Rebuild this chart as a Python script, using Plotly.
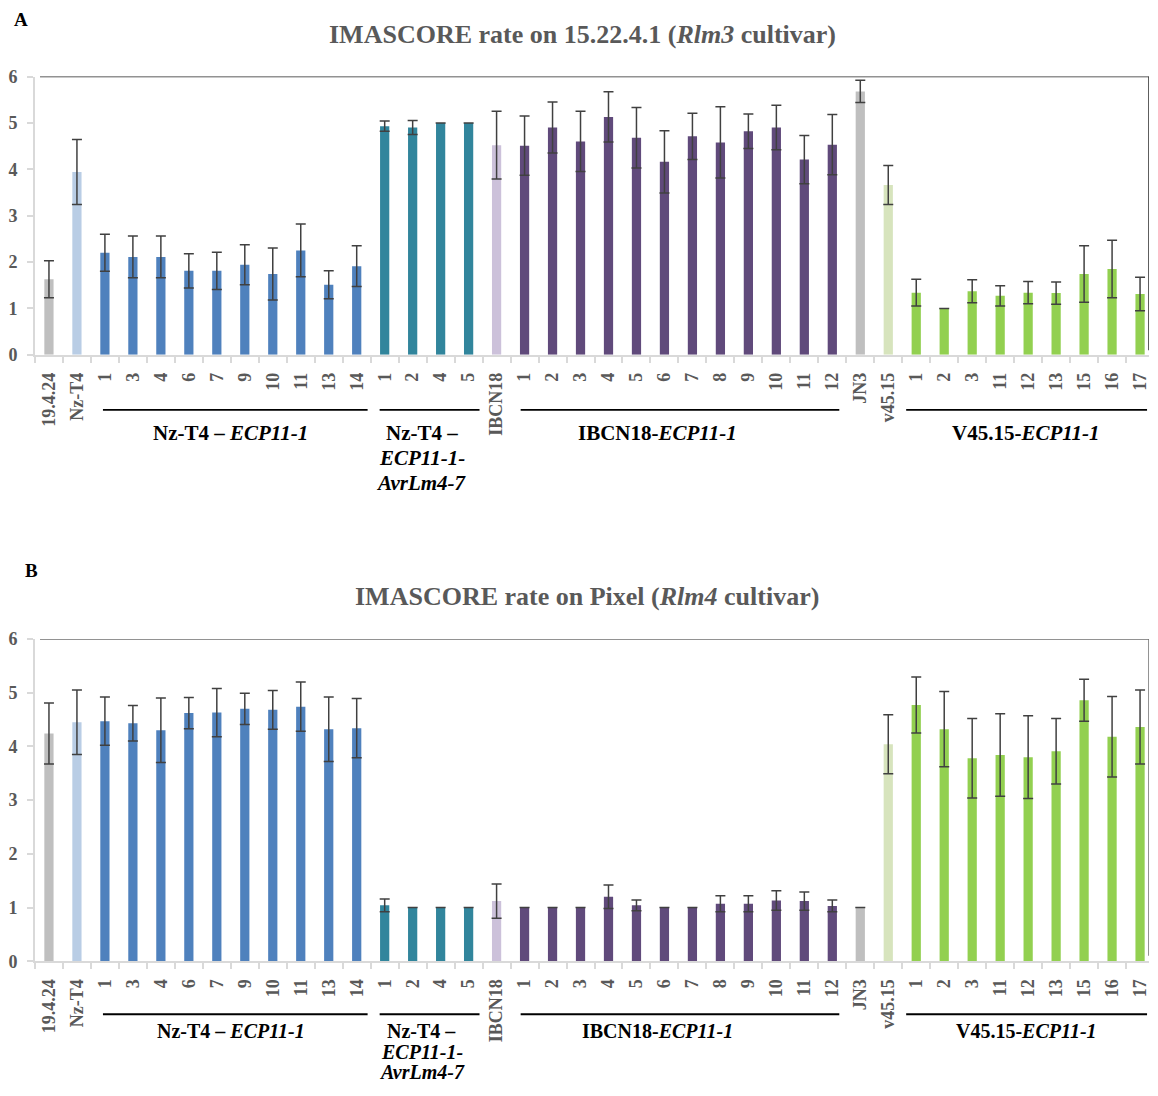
import plotly.graph_objects as go

# ---------------- data ----------------
labels = ["19.4.24", "Nz-T4", "1", "3", "4", "6", "7", "9", "10", "11", "13", "14",
          "1", "2", "4", "5",
          "IBCN18", "1", "2", "3", "4", "5", "6", "7", "8", "9", "10", "11", "12",
          "JN3", "v45.15", "1", "2", "3", "11", "12", "13", "15", "16", "17"]

rate_rlm3 = [1.63, 3.94, 2.20, 2.11, 2.11, 1.81, 1.81, 1.94, 1.74, 2.25, 1.51, 1.91,
             4.93, 4.90, 5.00, 5.00,
             4.52, 4.51, 4.90, 4.60, 5.13, 4.68, 4.16, 4.71, 4.58, 4.82, 4.90, 4.21, 4.53,
             5.68, 3.66, 1.34, 1.00, 1.37, 1.27, 1.34, 1.33, 1.74, 1.85, 1.31]
sd_rlm3 = [0.40, 0.70, 0.40, 0.45, 0.45, 0.37, 0.40, 0.43, 0.56, 0.57, 0.30, 0.44,
           0.11, 0.15, 0.00, 0.00,
           0.73, 0.64, 0.55, 0.65, 0.54, 0.65, 0.67, 0.50, 0.77, 0.37, 0.48, 0.52, 0.65,
           0.24, 0.42, 0.29, 0.00, 0.25, 0.22, 0.24, 0.24, 0.61, 0.62, 0.36]

rate_rlm4 = [4.24, 4.45, 4.47, 4.43, 4.30, 4.62, 4.63, 4.70, 4.68, 4.74, 4.32, 4.34,
             1.04, 1.00, 1.00, 1.00,
             1.12, 1.00, 1.00, 1.00, 1.20, 1.04, 1.00, 1.00, 1.07, 1.07, 1.13, 1.12, 1.03,
             1.00, 4.04, 4.77, 4.32, 3.78, 3.84, 3.80, 3.91, 4.86, 4.18, 4.36]
sd_rlm4 = [0.57, 0.60, 0.45, 0.33, 0.60, 0.29, 0.45, 0.29, 0.36, 0.46, 0.60, 0.55,
           0.12, 0.00, 0.00, 0.00,
           0.32, 0.00, 0.00, 0.00, 0.22, 0.10, 0.00, 0.00, 0.15, 0.15, 0.18, 0.17, 0.11,
           0.00, 0.55, 0.52, 0.70, 0.74, 0.77, 0.77, 0.61, 0.39, 0.75, 0.69]

# group bracket labels: list of text lines per group
groups = [["Nz-T4 – <i>ECP11-1</i>"],
          ["Nz-T4 –", "<i>ECP11-1-</i>", "<i>AvrLm4-7</i>"],
          ["IBCN18-<i>ECP11-1</i>"],
          ["V45.15-<i>ECP11-1</i>"]]

# ---------------- style ----------------
bar_colors = (["#BFBFBF", "#B9CDE5"] + ["#4F81BD"] * 10 + ["#31859C"] * 4 +
              ["#CCC1DA"] + ["#604A7B"] * 12 + ["#BFBFBF", "#D7E4BD"] + ["#92D050"] * 9)

W, H = 1158, 1096
FONT = "Times New Roman, Liberation Serif, serif"
GREY_TXT = "#595959"
AX = "#D9D9D9"

def px_x(p):
    return p / W

def px_y(p):
    # small empirical correction for the capture's vertical mapping
    q = (p - 10.5) / 0.981
    return 1 - q / H

xs = list(range(len(labels)))
XR = [-0.5, 39.32]

fig = go.Figure()
for i, (vals, errs) in enumerate([(rate_rlm3, sd_rlm3), (rate_rlm4, sd_rlm4)]):
    sfx = "" if i == 0 else "2"
    fig.add_trace(go.Bar(
        x=xs, y=vals, width=0.33,
        marker=dict(color=bar_colors, line=dict(width=0)),
        error_y=dict(type="data", array=errs, visible=True, color="#404040",
                     thickness=1.5, width=5),
        xaxis="x" + sfx, yaxis="y" + sfx, showlegend=False,
        hoverinfo="x+y"))

xaxis_common = dict(
    range=XR, domain=[px_x(35), px_x(1150)],
    tickmode="array", tickvals=xs, ticktext=labels, tickangle=-90,
    tickfont=dict(family=FONT, size=18, color=GREY_TXT, weight="bold"),
    showline=True, linecolor=AX, linewidth=1.5, ticks="",
    minor=dict(ticks="outside", tickmode="array",
               tickvals=[k + 0.5 for k in range(-1, 40)],
               ticklen=6, tickcolor=AX, tickwidth=1.5),
    ticklabelstandoff=9, showgrid=False, zeroline=False, fixedrange=True)

yaxis_common = dict(
    range=[0, 6], dtick=1, tick0=0, showgrid=False, zeroline=False,
    showline=True, linecolor=AX, linewidth=1.5,
    ticks="outside", ticklen=6, tickcolor=AX, tickwidth=1.5,
    tickfont=dict(family=FONT, size=18, color=GREY_TXT, weight="bold"),
    ticklabelstandoff=6, fixedrange=True)

fig.update_layout(
    width=W, height=H, margin=dict(l=0, r=0, t=0, b=0),
    paper_bgcolor="white", plot_bgcolor="white", showlegend=False,
    font=dict(family=FONT),
    xaxis=dict(xaxis_common, anchor="y"),
    yaxis=dict(yaxis_common, domain=[px_y(355), px_y(77)], anchor="x"),
    xaxis2=dict(xaxis_common, anchor="y2"),
    yaxis2=dict(yaxis_common, domain=[px_y(961), px_y(639)], anchor="x2"),
)

ann = []
shapes = []
# titles and panel letters
ann.append(dict(text="IMASCORE rate on 15.22.4.1 (<i>Rlm3</i> cultivar)", x=px_x(583), y=px_y(35),
                xref="paper", yref="paper", showarrow=False, xanchor="center", yanchor="middle",
                font=dict(family=FONT, size=26, color=GREY_TXT, weight="bold")))
ann.append(dict(text="IMASCORE rate on Pixel (<i>Rlm4</i> cultivar)", x=px_x(588), y=px_y(597),
                xref="paper", yref="paper", showarrow=False, xanchor="center", yanchor="middle",
                font=dict(family=FONT, size=26, color=GREY_TXT, weight="bold")))
ann.append(dict(text="A", x=px_x(21), y=px_y(20), xref="paper", yref="paper", showarrow=False,
                xanchor="center", yanchor="middle",
                font=dict(family=FONT, size=19, color="black", weight="bold")))
ann.append(dict(text="B", x=px_x(32), y=px_y(571), xref="paper", yref="paper", showarrow=False,
                xanchor="center", yanchor="middle",
                font=dict(family=FONT, size=19, color="black", weight="bold")))

# group brackets
line_x = [(1.93, 11.39), (11.82, 15.39), (16.86, 28.25), (30.64, 39.25)]
centers = [6.5, 13.32, 21.75, 34.93]
panel_rows = [(410, [433, 458, 483]), (1014, [1031, 1052, 1072])]
for panel, (line_py, rows) in enumerate(panel_rows):
    xr = "x" if panel == 0 else "x2"
    for lines, (x0, x1), cx in zip(groups, line_x, centers):
        shapes.append(dict(type="line", xref=xr, yref="paper", x0=x0, x1=x1,
                           y0=px_y(line_py), y1=px_y(line_py),
                           line=dict(color="black", width=1.8)))
        for k, txt in enumerate(lines):
            ann.append(dict(text=txt, x=cx, y=px_y(rows[k]), xref=xr, yref="paper",
                            showarrow=False, xanchor="center", yanchor="middle",
                            font=dict(family=FONT, size=21 if panel == 0 else 20,
                                      color="black", weight="bold")))

# partial frame lines (top and right)
for xr, yr, col in [("x", "y", "#262626"), ("x2", "y2", "#6E6E6E")]:
    shapes.append(dict(type="line", xref=xr, yref=yr, x0=-0.32, x1=39.32, y0=6, y1=6,
                       line=dict(color=col, width=1.5)))
    shapes.append(dict(type="line", xref=xr, yref=yr, x0=39.32, x1=39.32, y0=0.1, y1=6,
                       line=dict(color=col, width=1.5)))

fig.update_layout(annotations=ann, shapes=shapes)
fig.write_html("out.html",
               config={"displayModeBar": False},
               post_script="document.body.style.margin='0';"
                           "document.body.style.overflow='hidden';"
                           "var d=document.getElementById('{plot_id}');"
                           "d.style.position='fixed';d.style.top='0px';d.style.left='0px';")
